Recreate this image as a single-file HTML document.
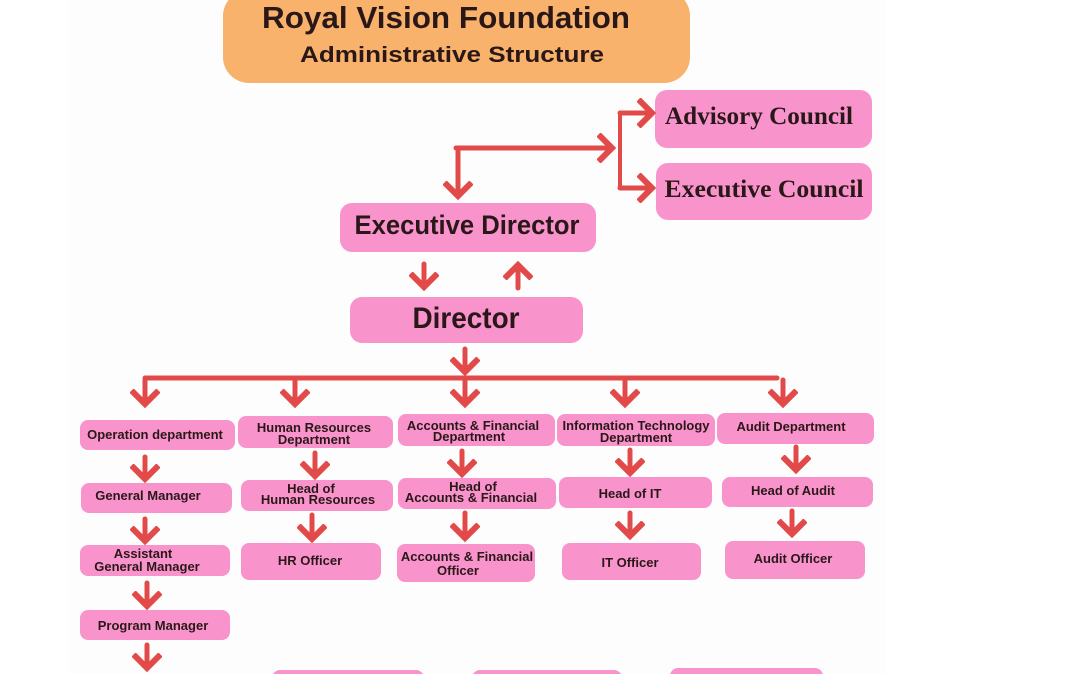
<!DOCTYPE html>
<html><head><meta charset="utf-8"><style>
html,body{margin:0;padding:0;background:#fff;}
svg{display:block}
text{font-family:"Liberation Sans Narrow","Liberation Sans",sans-serif;font-weight:bold;fill:#2a1818;text-anchor:middle}
.s{font-family:"Liberation Serif",serif}
.b{fill:#f993cc}
</style></head><body>
<svg width="1078" height="674" viewBox="0 0 1078 674">
<defs>
<marker id="h" markerWidth="6" markerHeight="6" refX="3" refY="3" orient="auto" markerUnits="strokeWidth">
<path d="M0.3,0.3 L3,3 L0.3,5.7" fill="none" stroke="#e24a4a" stroke-width="1.2"/>
</marker>
</defs>
<rect x="68" y="0" width="818" height="674" fill="#fefdfd"/>
<rect x="223" y="-10" width="467" height="93" rx="26" fill="#f8b26c"/>
<text x="446" y="28" font-size="31" textLength="368" lengthAdjust="spacingAndGlyphs">Royal Vision Foundation</text>
<text x="452" y="62" font-size="22" textLength="304" lengthAdjust="spacingAndGlyphs">Administrative Structure</text>

<g class="b">
<rect x="655" y="90" width="217" height="58" rx="12"/>
<rect x="656" y="163" width="216" height="57" rx="12"/>
<rect x="340" y="203" width="256" height="49" rx="12"/>
<rect x="350" y="297" width="233" height="46" rx="12"/>
<rect x="80" y="420" width="155" height="30" rx="8"/>
<rect x="238" y="416" width="155" height="32" rx="8"/>
<rect x="398" y="414" width="157" height="32" rx="8"/>
<rect x="557" y="414" width="158" height="32" rx="8"/>
<rect x="717" y="413" width="157" height="31" rx="8"/>
<rect x="81" y="483" width="151" height="30" rx="8"/>
<rect x="241" y="480" width="152" height="31" rx="8"/>
<rect x="398" y="478" width="158" height="31" rx="8"/>
<rect x="559" y="477" width="153" height="31" rx="8"/>
<rect x="722" y="477" width="151" height="30" rx="8"/>
<rect x="80" y="545" width="150" height="31" rx="8"/>
<rect x="241" y="543" width="140" height="37" rx="8"/>
<rect x="397" y="544" width="138" height="38" rx="8"/>
<rect x="562" y="543" width="139" height="37" rx="8"/>
<rect x="725" y="541" width="140" height="38" rx="8"/>
<rect x="80" y="610" width="150" height="30" rx="8"/>
<rect x="272" y="670" width="152" height="20" rx="8"/>
<rect x="472" y="670" width="150" height="20" rx="8"/>
<rect x="670" y="668" width="153" height="20" rx="8"/>
</g>

<text class="s" x="759" y="124" font-size="25" textLength="188" lengthAdjust="spacingAndGlyphs">Advisory Council</text>
<text class="s" x="764" y="197" font-size="25" textLength="199" lengthAdjust="spacingAndGlyphs">Executive Council</text>
<text x="467" y="234" font-size="27" textLength="225" lengthAdjust="spacingAndGlyphs">Executive Director</text>
<text x="466" y="328" font-size="30" textLength="107" lengthAdjust="spacingAndGlyphs">Director</text>
<g font-size="13">
<text x="155" y="439">Operation department</text>
<text x="314" y="432">Human Resources</text><text x="314" y="444">Department</text>
<text x="473" y="430">Accounts &amp; Financial</text><text x="469" y="441">Department</text>
<text x="636" y="430">Information Technology</text><text x="636" y="442">Department</text>
<text x="791" y="431">Audit Department</text>
<text x="148" y="500">General Manager</text>
<text x="311" y="493">Head of</text><text x="318" y="504">Human Resources</text>
<text x="473" y="491">Head of</text><text x="471" y="502">Accounts &amp; Financial</text>
<text x="630" y="498">Head of IT</text>
<text x="793" y="495">Head of Audit</text>
<text x="143" y="558">Assistant</text><text x="147" y="571">General Manager</text>
<text x="310" y="565">HR Officer</text>
<text x="467" y="561">Accounts &amp; Financial</text><text x="458" y="575">Officer</text>
<text x="630" y="567">IT Officer</text>
<text x="793" y="563">Audit Officer</text>
<text x="153" y="630">Program Manager</text>
</g>

<g stroke="#e24a4a" stroke-width="5" fill="none" stroke-linecap="round">
<path d="M458 192 V148 H612" />
<path d="M620 113 V188" stroke-width="4"/>
<path d="M458 148 V196" marker-end="url(#h)"/>
<path d="M456 148 H612" marker-end="url(#h)"/>
<path d="M620 113 H652" marker-end="url(#h)"/>
<path d="M620 188 H652" marker-end="url(#h)"/>
<path d="M424 264 V287" marker-end="url(#h)"/>
<path d="M518 288 V265" marker-end="url(#h)"/>
<path d="M465 349 V372" marker-end="url(#h)"/>
<path d="M145 378 H777"/>
<path d="M145 380 V404" marker-end="url(#h)"/>
<path d="M295 380 V404" marker-end="url(#h)"/>
<path d="M465 380 V404" marker-end="url(#h)"/>
<path d="M625 380 V404" marker-end="url(#h)"/>
<path d="M783 380 V404" marker-end="url(#h)"/>
<path d="M145 457 V479" marker-end="url(#h)"/>
<path d="M145 519 V541" marker-end="url(#h)"/>
<path d="M147 583 V606" marker-end="url(#h)"/>
<path d="M147 645 V668" marker-end="url(#h)"/>
<path d="M315 453 V476" marker-end="url(#h)"/>
<path d="M312 515 V539" marker-end="url(#h)"/>
<path d="M462 451 V474" marker-end="url(#h)"/>
<path d="M465 513 V538" marker-end="url(#h)"/>
<path d="M630 450 V473" marker-end="url(#h)"/>
<path d="M630 513 V536" marker-end="url(#h)"/>
<path d="M796 447 V470" marker-end="url(#h)"/>
<path d="M792 511 V534" marker-end="url(#h)"/>
</g>
</svg>
</body></html>
